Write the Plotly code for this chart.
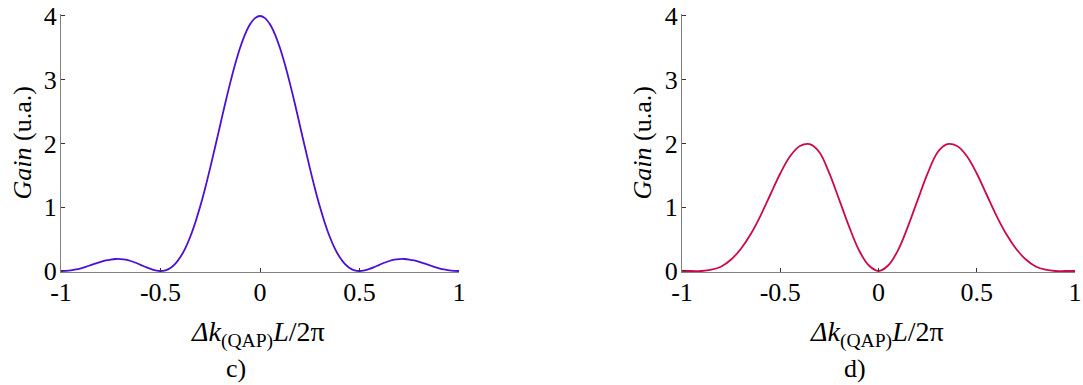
import plotly.graph_objects as go

# ---- data ----
x_c = [-1.0, -0.975, -0.95, -0.925, -0.9, -0.875, -0.85, -0.825, -0.8, -0.775,
       -0.75, -0.725, -0.7, -0.675, -0.65, -0.625, -0.6, -0.575, -0.55, -0.525,
       -0.5, -0.475, -0.45, -0.425, -0.4, -0.375, -0.35, -0.325, -0.3, -0.275,
       -0.25, -0.225, -0.2, -0.175, -0.15, -0.125, -0.1, -0.075, -0.05, -0.025,
       0.0, 0.025, 0.05, 0.075, 0.1, 0.125, 0.15, 0.175, 0.2, 0.225,
       0.25, 0.275, 0.3, 0.325, 0.35, 0.375, 0.4, 0.425, 0.45, 0.475,
       0.5, 0.525, 0.55, 0.575, 0.6, 0.625, 0.65, 0.675, 0.7, 0.725,
       0.75, 0.775, 0.8, 0.825, 0.85, 0.875, 0.9, 0.925, 0.95, 0.975, 1.0]
gain_c = [0.000, 0.003, 0.011, 0.024, 0.043, 0.066, 0.092, 0.118, 0.143, 0.165,
          0.180, 0.188, 0.187, 0.177, 0.157, 0.130, 0.097, 0.063, 0.032, 0.009,
          0.000, 0.011, 0.048, 0.116, 0.219, 0.360, 0.541, 0.762, 1.018, 1.307,
          1.621, 1.952, 2.291, 2.627, 2.947, 3.242, 3.501, 3.713, 3.870, 3.967,
          4.000, 3.967, 3.870, 3.713, 3.501, 3.242, 2.947, 2.627, 2.291, 1.952,
          1.621, 1.307, 1.018, 0.762, 0.541, 0.360, 0.219, 0.116, 0.048, 0.011,
          0.000, 0.009, 0.032, 0.063, 0.097, 0.130, 0.157, 0.177, 0.187, 0.188,
          0.180, 0.165, 0.143, 0.118, 0.092, 0.066, 0.043, 0.024, 0.011, 0.003, 0.000]

x_d = [-1.0, -0.95, -0.9, -0.85, -0.8, -0.75, -0.7, -0.65, -0.6, -0.55,
       -0.5, -0.45, -0.4, -0.35, -0.3, -0.25, -0.2, -0.15, -0.1, -0.05,
       0.0, 0.05, 0.1, 0.15, 0.2, 0.25, 0.3, 0.35, 0.4, 0.45,
       0.5, 0.55, 0.6, 0.65, 0.7, 0.75, 0.8, 0.85, 0.9, 0.95, 1.0]
gain_d = [0.00, 0.00, 0.00, 0.02, 0.07, 0.18, 0.35, 0.58, 0.87, 1.20,
          1.53, 1.80, 1.96, 1.99, 1.86, 1.53, 1.12, 0.70, 0.33, 0.09,
          0.00, 0.09, 0.33, 0.70, 1.12, 1.53, 1.86, 1.99, 1.96, 1.80,
          1.53, 1.20, 0.87, 0.58, 0.35, 0.18, 0.07, 0.02, 0.00, 0.00, 0.00]

x_tickvals = [-1, -0.5, 0, 0.5, 1]
x_ticktext = ["-1", "-0.5", "0", "0.5", "1"]
y_tickvals = [0, 1, 2, 3, 4]
y_ticktext = ["0", "1", "2", "3", "4"]

y_title = "<i>Gain</i> (u.a.)"
x_title = "<i>Δk</i><sub>(QAP)</sub><i>L</i>/2π"
panel_labels = ["c)", "d)"]

# ---- layout ----
W, H = 1083, 385
FONT = "Liberation Serif"
FS = 26

def px_x(p):
    return p / W

def px_y(p):
    return (H - p) / H

# y=0 at pixel 271, y=4 at pixel 16 -> 63.75 px/unit
y_rng = [-0.02, 4.03]
y_dom = [px_y(271 + 0.02 * 63.75), px_y(16 - 0.03 * 63.75)]

fig = go.Figure()
fig.add_trace(go.Scatter(x=x_c, y=gain_c, mode="lines",
                         line=dict(color="#4a10d8", width=1.8, shape="spline"),
                         xaxis="x", yaxis="y", showlegend=False))
fig.add_trace(go.Scatter(x=x_d, y=gain_d, mode="lines",
                         line=dict(color="#cc0a4a", width=1.8, shape="spline"),
                         xaxis="x2", yaxis="y2", showlegend=False))

axis_common = dict(showgrid=False, zeroline=False, showline=True, automargin=False,
                   linecolor="#808080", linewidth=1, ticks="inside",
                   ticklen=4, tickcolor="#333333", tickwidth=1,
                   tickfont=dict(family=FONT, size=FS, color="#000000"))

fig.update_layout(
    width=W, height=H,
    margin=dict(l=0, r=0, t=0, b=0, autoexpand=False),
    paper_bgcolor="white", plot_bgcolor="white",
    xaxis=dict(domain=[px_x(61), px_x(459)], range=[-1, 1], anchor="y",
               tickvals=x_tickvals, ticktext=x_ticktext, ticklabelstandoff=-3, **axis_common),
    yaxis=dict(domain=y_dom, range=y_rng, anchor="x",
               tickvals=y_tickvals, ticktext=y_ticktext, ticklabelstandoff=-2, **axis_common),
    xaxis2=dict(domain=[px_x(682), px_x(1075)], range=[-1, 1], anchor="y2",
                tickvals=x_tickvals, ticktext=x_ticktext, ticklabelstandoff=-3, **axis_common),
    yaxis2=dict(domain=y_dom, range=y_rng, anchor="x2",
                tickvals=y_tickvals, ticktext=y_ticktext, ticklabelstandoff=-2, **axis_common),
)

afont = dict(family=FONT, size=26, color="#000000")
tfont = dict(family=FONT, size=28, color="#000000")
for ytx, xtx in [(22, 258), (642, 877)]:
    fig.add_annotation(x=px_x(ytx), y=px_y(143.5), xref="paper", yref="paper",
                       text=y_title, textangle=-90, showarrow=False,
                       xanchor="center", yanchor="middle", font=afont)
    fig.add_annotation(x=px_x(xtx), y=px_y(334), xref="paper", yref="paper",
                       text=x_title, showarrow=False,
                       xanchor="center", yanchor="middle", font=tfont)
for lbl, lx in zip(panel_labels, [236, 855]):
    fig.add_annotation(x=px_x(lx), y=px_y(368), xref="paper", yref="paper",
                       text=lbl, showarrow=False,
                       xanchor="center", yanchor="middle", font=afont)

fig.write_html("out.html", config={"displayModeBar": False},
               post_script="document.body.style.margin='0';document.body.style.overflow='hidden';")
